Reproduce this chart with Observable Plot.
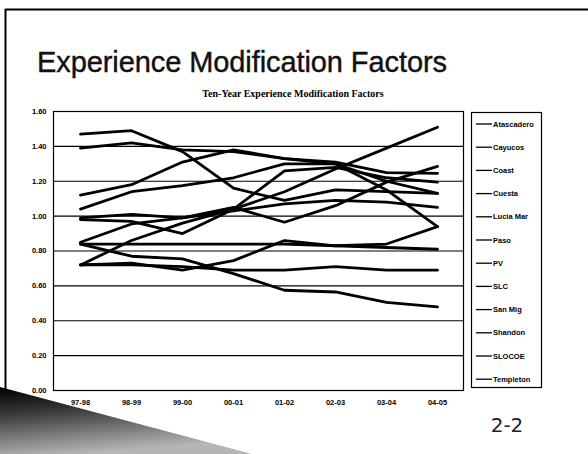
<!DOCTYPE html>
<html><head><meta charset="utf-8">
<script src="https://cdn.jsdelivr.net/npm/d3@7"></script>
<script src="https://cdn.jsdelivr.net/npm/@observablehq/plot@0.6"></script>
<style>
html,body{margin:0;padding:0;background:#fff;width:588px;height:454px;overflow:hidden;}
#wrap{position:relative;width:588px;height:454px;}
#chart,#deco{position:absolute;left:0;top:0;}
</style></head><body><div id="wrap"><div id="chart"></div><svg id="deco" width="588" height="454"></svg></div>
<script>
// ---- data ----
const years = ["97-98","98-99","99-00","00-01","01-02","02-03","03-04","04-05"];
const names = ["Atascadero","Cayucos","Coast","Cuesta","Lucia Mar","Paso","PV","SLC","San Mig","Shandon","SLOCOE","Templeton"];
const yTicks = [0, 0.2, 0.4, 0.6, 0.8, 1.0, 1.2, 1.4, 1.6];

const atascadero = [1.47, 1.49, 1.37, 1.16, 1.09, 1.15, 1.14, 1.13];
const cayucos    = [1.39, 1.42, 1.38, 1.37, 1.33, 1.31, 1.25, 1.245];
const coast      = [1.12, 1.18, 1.31, 1.38, 1.33, 1.30, 1.20, 1.13];
const cuesta     = [1.04, 1.14, 1.175, 1.22, 1.30, 1.30, 1.15, 0.94];
const luciaMar   = [0.99, 1.01, 0.99, 1.03, 1.07, 1.09, 1.08, 1.05];
const paso       = [0.98, 0.97, 0.90, 1.04, 1.26, 1.28, 1.22, 1.195];
const pv         = [0.85, 0.955, 0.99, 1.05, 0.965, 1.06, 1.195, 1.285];
const slc        = [0.84, 0.84, 0.84, 0.84, 0.84, 0.83, 0.82, 0.81];
const sanMig     = [0.72, 0.86, 0.96, 1.04, 1.14, 1.27, 1.39, 1.51];
const shandon    = [0.72, 0.73, 0.69, 0.745, 0.86, 0.83, 0.84, 0.94];
const slocoe     = [0.72, 0.72, 0.71, 0.69, 0.69, 0.71, 0.69, 0.69];
const templeton  = [0.84, 0.77, 0.755, 0.67, 0.575, 0.565, 0.505, 0.48];

const seriesValues = [atascadero, cayucos, coast, cuesta, luciaMar, paso, pv, slc, sanMig, shandon, slocoe, templeton];
const rows = names.flatMap((name, k) => seriesValues[k].map((v, i) => ({name, year: years[i], value: v})));

// ---- chart ----
const chart = Plot.plot({
  width: 588, height: 454,
  marginLeft: 53, marginRight: 125, marginTop: 111, marginBottom: 64,
  style: {background: "transparent", fontFamily: "'Liberation Sans', Arial, sans-serif", fontSize: "7.5px", fontWeight: "bold", color: "#000"},
  x: {type: "point", domain: years, padding: 0.5, label: null},
  y: {domain: [0, 1.6], label: null},
  marks: [
    Plot.ruleY(yTicks, {stroke: "#000", strokeWidth: 1.2}),
    Plot.frame({stroke: "#000", strokeWidth: 1.2}),
    Plot.axisY(yTicks, {tickSize: 0, tickPadding: 7, tickFormat: d => d.toFixed(2), label: null}),
    Plot.axisX({tickSize: 0, tickPadding: 9, label: null}),
    Plot.line(rows, {x: "year", y: "value", z: "name", stroke: "#000", strokeWidth: 2.8, strokeLinejoin: "round"})
  ]
});
document.getElementById("chart").appendChild(chart);

// ---- slide decoration, titles, legend ----
const deco = d3.select("#deco");
const defs = deco.append("defs");
const g = defs.append("linearGradient").attr("id", "tri").attr("x1", "0").attr("y1", "0").attr("x2", "0.3").attr("y2", "1");
g.append("stop").attr("offset", "0").attr("stop-color", "#000");
g.append("stop").attr("offset", "0.35").attr("stop-color", "#333");
g.append("stop").attr("offset", "1").attr("stop-color", "#b5b5b5");

deco.append("line").attr("x1", 5).attr("x2", 588).attr("y1", 9.5).attr("y2", 9.5).attr("stroke", "#000").attr("stroke-width", 2);
deco.append("line").attr("x1", 5.5).attr("x2", 5.5).attr("y1", 9).attr("y2", 454).attr("stroke", "#000").attr("stroke-width", 2);
deco.append("polygon").attr("points", "0,387 252,454 0,454").attr("fill", "url(#tri)");

deco.append("text").attr("x", 37).attr("y", 72).attr("font-family", "'Liberation Sans', Arial, sans-serif")
  .attr("font-size", 29).attr("fill", "#111").attr("stroke", "#111").attr("stroke-width", 0.4)
  .attr("textLength", 410).attr("lengthAdjust", "spacing").text("Experience Modification Factors");
deco.append("text").attr("x", 293).attr("y", 97).attr("text-anchor", "middle")
  .attr("font-family", "'Liberation Serif', 'Times New Roman', serif").attr("font-weight", "bold")
  .attr("font-size", 10).attr("fill", "#000").text("Ten-Year Experience Modification Factors");
deco.append("text").attr("x", 507).attr("y", 432).attr("text-anchor", "middle")
  .attr("font-family", "'DejaVu Sans', sans-serif").attr("font-size", 20).attr("fill", "#222").text("2-2");

const leg = deco.append("g");
leg.append("rect").attr("x", 471.5).attr("y", 112.5).attr("width", 70).attr("height", 275)
  .attr("fill", "#fff").attr("stroke", "#000").attr("stroke-width", 1.2);
names.forEach((n, i) => {
  const y = 124 + i * 23.2;
  leg.append("line").attr("x1", 476).attr("x2", 492).attr("y1", y).attr("y2", y).attr("stroke", "#000").attr("stroke-width", 1.3);
  leg.append("text").attr("x", 493).attr("y", y).attr("dy", "0.35em")
    .attr("font-family", "'Liberation Sans', Arial, sans-serif").attr("font-weight", "bold")
    .attr("font-size", 7.5).attr("fill", "#000").text(n);
});
</script></body></html>
